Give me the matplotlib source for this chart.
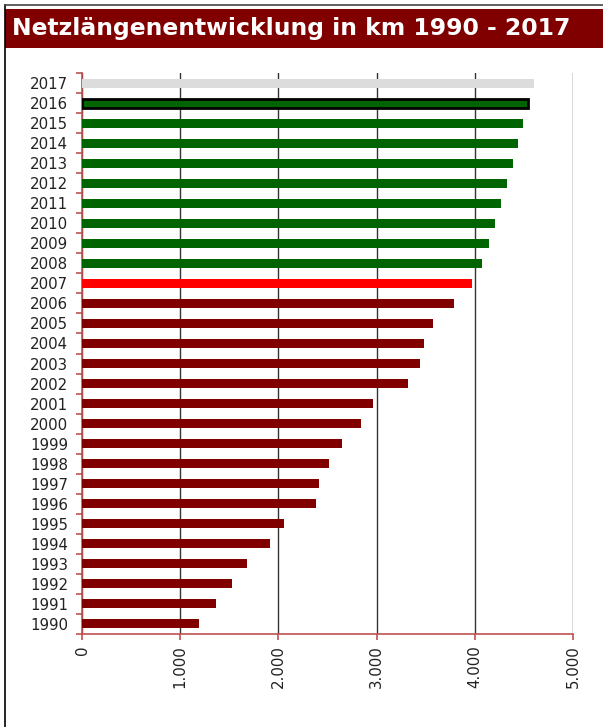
import numpy as np
import matplotlib
matplotlib.use("Agg")
import matplotlib.pyplot as plt
from matplotlib.patches import Rectangle
from matplotlib.lines import Line2D

# --- data (km network length per year) ---
years = [str(y) for y in range(1990, 2018)]
lengths = [1188, 1361, 1526, 1680, 1912, 2057, 2384, 2415, 2518, 2651,
           2844, 2966, 3316, 3438, 3478, 3572, 3784, 3969, 4072, 4142,
           4203, 4265, 4327, 4388, 4440, 4490, 4540, 4603]
bar_colors = (["#800000"] * 17 + ["#ff0000"] + ["#006400"] * 9 + ["#dcdcdc"])
x_ticks = [0, 1000, 2000, 3000, 4000, 5000]
x_labels = ["0", "1.000", "2.000", "3.000", "4.000", "5.000"]
title = "Netzlängenentwicklung in km 1990 - 2017"

W, H = 603, 727
fig = plt.figure(figsize=(W / 100, H / 100), dpi=100)

# frame + title band
fig.add_artist(Line2D([5 / W, 5 / W], [0, 1 - 5 / H], color="black", lw=1.2))
fig.add_artist(Line2D([5 / W, 1], [1 - 5 / H, 1 - 5 / H], color="#444444", lw=1.2))
fig.add_artist(Rectangle((5 / W, 1 - 48 / H), 1 - 5 / W, 39 / H,
                         color="#800000", lw=0))
fig.text(12 / W, 1 - 28 / H, title, color="white", fontsize=16.9,
         fontweight="bold", va="center", ha="left")

ax = fig.add_axes([82 / W, 1 - 634 / H, (573 - 82) / W, (634 - 73) / H])
pos = np.arange(len(years))
bars = ax.barh(pos, lengths, height=0.45, color=bar_colors, zorder=3)
bars[26].set_edgecolor("black")
bars[26].set_linewidth(2)

ax.set_xlim(0, 5000)
ax.set_ylim(-0.5, len(years) - 0.5)
ax.set_xticks(x_ticks)
ax.set_xticklabels(x_labels, rotation=90, fontsize=10.8, color="#222222")
ax.set_yticks(pos)
ax.set_yticklabels(years, fontsize=10.8, color="#222222")
ax.set_yticks(np.arange(-0.5, len(years)), minor=True)

ax.tick_params(axis="y", which="major", length=0, pad=10)
ax.tick_params(axis="y", which="minor", length=4, color="#c05050", width=1.2)
ax.tick_params(axis="x", length=4, color="#c05050", width=1.2, pad=4)

ax.grid(axis="x", color="#333333", lw=1, zorder=1)
for s in ["top", "right"]:
    ax.spines[s].set_visible(False)
for s in ["left", "bottom"]:
    ax.spines[s].set_color("#c05050")
    ax.spines[s].set_linewidth(1.2)

fig.savefig("out.png", dpi=100)
